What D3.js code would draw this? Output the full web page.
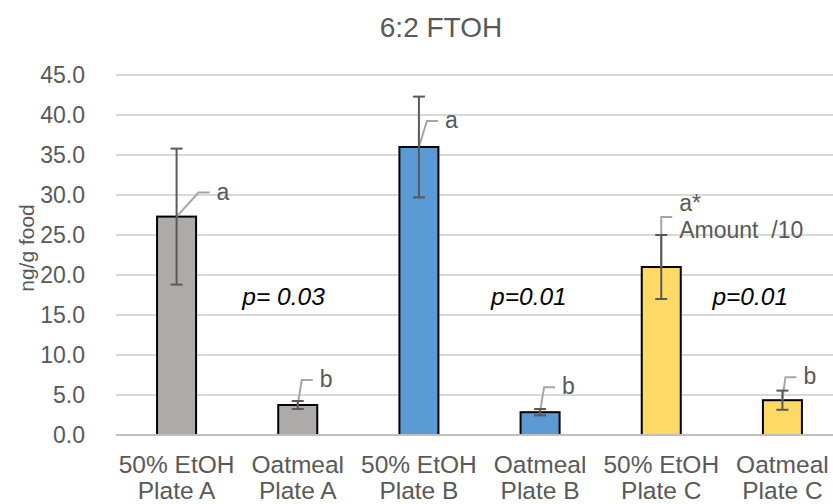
<!DOCTYPE html>
<html>
<head>
<meta charset="utf-8">
<script src="https://cdn.jsdelivr.net/npm/d3@7"></script>
<style>
  html, body { margin: 0; padding: 0; background: #fff; }
  svg { display: block; font-family: "Liberation Sans", Arial, sans-serif; }
</style>
</head>
<body>
<svg id="chart" width="833" height="504"></svg>
<script>
// 6:2 FTOH concentration per sample (ng/g food), mean ± error
const categoriesTop = ["50% EtOH", "Oatmeal", "50% EtOH", "Oatmeal", "50% EtOH", "Oatmeal"];
const categoriesBottom = ["Plate A", "Plate A", "Plate B", "Plate B", "Plate C", "Plate C"];
const values = [27.3, 3.75, 36.0, 2.85, 21.0, 4.35];
const errors = [8.5, 0.5, 6.3, 0.4, 4.0, 1.2];
const barColors = ["#AEAAAA", "#AEAAAA", "#5B9BD5", "#5B9BD5", "#FFD966", "#FFD966"];
const letters = [["a"], ["b"], ["a"], ["b"], ["a*", "Amount  /10"], ["b"]];
const pLabels = ["p= 0.03", "p=0.01", "p=0.01"];
const yTicks = [0, 5, 10, 15, 20, 25, 30, 35, 40, 45];

const svg = d3.select("#chart");
const idx = d3.range(values.length);

const x = d3.scaleBand().domain(idx).range([116, 843]).paddingInner(0.678).paddingOuter(0.339);
const y = d3.scaleLinear().domain([0, 45]).range([435, 75]);
const cx = i => x(i) + x.bandwidth() / 2;

// title
svg.append("text")
  .attr("x", 441).attr("y", 37)
  .attr("text-anchor", "middle")
  .attr("font-size", 28).attr("fill", "#595959")
  .text("6:2 FTOH");

// value axis labels
const yAxis = d3.axisLeft(y).tickValues(yTicks).tickFormat(d3.format(".1f")).tickSize(0).tickPadding(33);
const gAxis = svg.append("g").attr("transform", "translate(118,0)").call(yAxis);
gAxis.select(".domain").remove();
gAxis.selectAll("text").attr("font-size", 23).attr("fill", "#595959")
  .attr("font-family", "Liberation Sans, Arial, sans-serif");

// gridlines
svg.append("g").selectAll("line").data(yTicks.filter(d => d > 0)).join("line")
  .attr("x1", 116).attr("x2", 843)
  .attr("y1", d => y(d)).attr("y2", d => y(d))
  .attr("stroke", "#D9D9D9").attr("stroke-width", 2);

// y axis title
svg.append("text")
  .attr("transform", "translate(34,248) rotate(-90)")
  .attr("text-anchor", "middle")
  .attr("font-size", 21).attr("fill", "#595959")
  .text("ng/g food");

// bars
svg.append("g").selectAll("rect").data(idx).join("rect")
  .attr("x", i => x(i)).attr("width", x.bandwidth())
  .attr("y", i => y(values[i])).attr("height", i => y(0) - y(values[i]))
  .attr("fill", i => barColors[i])
  .attr("stroke", "#000").attr("stroke-width", 2);

// baseline
svg.append("line")
  .attr("x1", 116).attr("x2", 843).attr("y1", y(0)).attr("y2", y(0))
  .attr("stroke", "#BFBFBF").attr("stroke-width", 2);

// leader lines and letter labels
const leaderDx = [22, 4, 8, 4, 0, 3];
const leaderRise = [24, 25, 26, 25, 50, 23];
const gLab = svg.append("g");
idx.forEach(i => {
  const x0 = cx(i), y0 = y(values[i]);
  const x1 = x0 + leaderDx[i], y1 = y0 - leaderRise[i];
  gLab.append("polyline")
    .attr("points", `${x0},${y0} ${x1},${y1} ${x1 + 11},${y1}`)
    .attr("fill", "none").attr("stroke", "#A6A6A6").attr("stroke-width", 2);
  const lines = letters[i];
  const t = gLab.append("text")
    .attr("xml:space", "preserve")
    .style("white-space", "pre")
    .attr("font-size", 23).attr("fill", "#595959");
  const startY = y1 + 7 - (lines.length - 1) * 13.5;
  lines.forEach((s, k) => {
    t.append("tspan").attr("x", x1 + 18).attr("y", startY + k * 27).text(s);
  });
});

// error bars
const gErr = svg.append("g").attr("stroke", "#595959").attr("stroke-width", 2);
idx.forEach(i => {
  const c = cx(i), hi = y(values[i] + errors[i]), lo = y(values[i] - errors[i]);
  gErr.append("line").attr("x1", c).attr("x2", c).attr("y1", hi).attr("y2", lo);
  gErr.append("line").attr("x1", c - 6).attr("x2", c + 6).attr("y1", hi).attr("y2", hi);
  gErr.append("line").attr("x1", c - 6).attr("x2", c + 6).attr("y1", lo).attr("y2", lo);
});

// p-values for each plate pair
const pOffset = [107, 110, 89];
pLabels.forEach((s, k) => {
  svg.append("text")
    .attr("x", cx(2 * k) + pOffset[k]).attr("y", 305)
    .attr("text-anchor", "middle")
    .attr("font-size", 24.5).attr("font-style", "italic").attr("fill", "#000")
    .text(s);
});

// category labels
const gX = svg.append("g").attr("font-size", 24.5).attr("fill", "#595959").attr("text-anchor", "middle");
idx.forEach(i => {
  gX.append("text").attr("x", cx(i)).attr("y", 473).text(categoriesTop[i]);
  gX.append("text").attr("x", cx(i)).attr("y", 499).text(categoriesBottom[i]);
});
</script>
</body>
</html>
